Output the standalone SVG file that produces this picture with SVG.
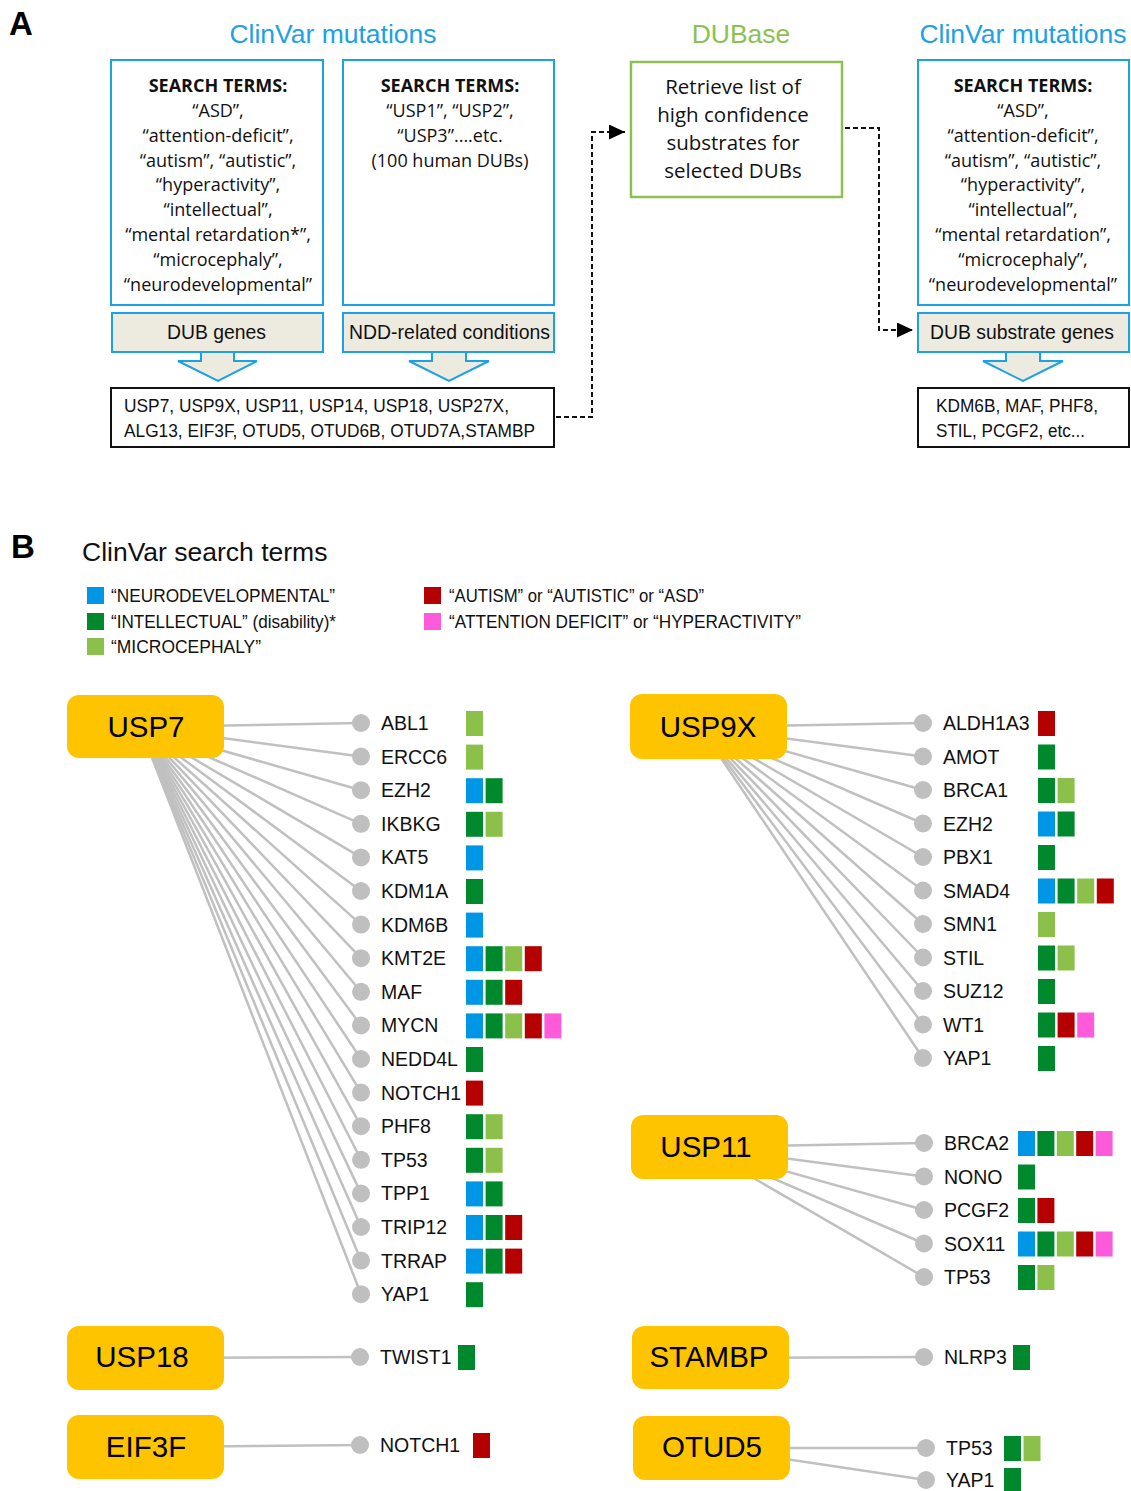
<svg xmlns="http://www.w3.org/2000/svg" width="1131" height="1491" viewBox="0 0 1131 1491">
<style>
.lbl{font-family:"Liberation Sans",Arial,sans-serif;font-weight:bold;font-size:33px;fill:#000}
.title{font-family:"Liberation Sans",Arial,sans-serif;font-size:26.5px;text-anchor:middle}
.blue{fill:#1BA1E6}
.grn{fill:#8CC152}
.bx{fill:#fff;stroke:#1BA1E6;stroke-width:2}
.gbx{fill:#fff;stroke:#8CC152;stroke-width:2.5}
.kbx{fill:#fff;stroke:#111;stroke-width:2}
.beige{fill:#EDEAE0;stroke:#1BA1E6;stroke-width:2}
.t17{font-family:"Open Sans","Noto Sans",sans-serif;font-size:18px;text-anchor:middle;fill:#111}
.t17b{font-family:"Open Sans","Noto Sans",sans-serif;font-size:18px;font-weight:bold;text-anchor:middle;fill:#111}
.t20{font-family:"Open Sans","Noto Sans",sans-serif;font-size:20.5px;text-anchor:middle;fill:#111}
.nar{font-family:"Liberation Sans",Arial,sans-serif;fill:#111}
.dash{fill:none;stroke:#111;stroke-width:2;stroke-dasharray:5 3}
.edge line{stroke:#C0C0C0;stroke-width:2.5}
.dub rect{fill:#FFC400}
.dub text{font-family:"Liberation Sans",Arial,sans-serif;font-size:29.5px;text-anchor:middle;fill:#000}
.gene circle{fill:#BFBFBF}
.gene text{font-family:"Liberation Sans",Arial,sans-serif;font-size:19.5px;fill:#111}
.sB{fill:#0096E6}.sG{fill:#00892C}.sL{fill:#8BC14A}.sR{fill:#B50000}.sP{fill:#FF5AD9}
</style>
<defs>
<marker id="ah" markerUnits="userSpaceOnUse" markerWidth="17" markerHeight="16" refX="16" refY="7.5" orient="auto">
<path d="M0,0 L16,7.5 L0,15 z" fill="#000"/>
</marker>
</defs>
<rect width="1131" height="1491" fill="#fff"/>

<!-- Panel A -->
<text class="lbl" x="9" y="35">A</text>
<text class="title blue" x="333" y="43">ClinVar mutations</text>
<text class="title grn" x="741" y="43">DUBase</text>
<text class="title blue" x="1023" y="43">ClinVar mutations</text>

<g id="connectors-a">
<polygon class="beige" points="201,352 234,352 234,361 257,361 218,381 178,361 201,361"/>
<polygon class="beige" points="432,352 466,352 466,361 489,361 449,381 409,361 432,361"/>
<polygon class="beige" points="1006,352 1040,352 1040,361 1063,361 1023,381 983,361 1006,361"/>
<path class="dash" d="M556,417 H592 V132 H625" marker-end="url(#ah)"/>
<path class="dash" d="M845,128 H879 V330 H913" marker-end="url(#ah)"/>
</g>

<g id="search-dub-genes">
<rect class="bx" x="111" y="60" width="212" height="245"/>
<text class="t17b" x="218" y="92">SEARCH TERMS:</text>
<text class="t17" x="218" y="117">“ASD”,</text>
<text class="t17" x="218" y="142">“attention-deficit”,</text>
<text class="t17" x="218" y="167">“autism”, “autistic”,</text>
<text class="t17" x="218" y="191">“hyperactivity”,</text>
<text class="t17" x="218" y="216">“intellectual”,</text>
<text class="t17" x="218" y="241">“mental retardation*”,</text>
<text class="t17" x="218" y="266">“microcephaly”,</text>
<text class="t17" x="218" y="291">“neurodevelopmental”</text>
</g>
<g id="search-dubs">
<rect class="bx" x="343" y="60" width="211" height="245"/>
<text class="t17b" x="450" y="92">SEARCH TERMS:</text>
<text class="t17" x="450" y="117">“USP1”, “USP2”,</text>
<text class="t17" x="450" y="142">“USP3”....etc.</text>
<text class="t17" x="450" y="167">(100 human DUBs)</text>
</g>
<g id="dub-genes">
<rect class="beige" x="112" y="313" width="211" height="39"/>
<text class="nar" x="167" y="339" font-size="21" textLength="99" lengthAdjust="spacingAndGlyphs">DUB genes</text>
</g>
<g id="ndd-conditions">
<rect class="beige" x="343" y="313" width="211" height="39"/>
<text class="nar" x="349" y="339" font-size="21" textLength="201" lengthAdjust="spacingAndGlyphs">NDD-related conditions</text>
</g>
<g id="dub-list">
<rect class="kbx" x="111" y="388" width="443" height="59"/>
<text class="nar" x="124" y="412" font-size="18" textLength="385" lengthAdjust="spacingAndGlyphs">USP7, USP9X, USP11, USP14, USP18, USP27X,</text>
<text class="nar" x="124" y="437" font-size="18" textLength="411" lengthAdjust="spacingAndGlyphs">ALG13, EIF3F, OTUD5, OTUD6B, OTUD7A,STAMBP</text>
</g>
<g id="dubase">
<rect class="gbx" x="631" y="62" width="211" height="135"/>
<text class="t20" x="733" y="94">Retrieve list of</text>
<text class="t20" x="733" y="122">high confidence</text>
<text class="t20" x="733" y="150">substrates for</text>
<text class="t20" x="733" y="178">selected DUBs</text>
</g>
<g id="search-substrates">
<rect class="bx" x="918" y="60" width="211" height="245"/>
<text class="t17b" x="1023" y="92">SEARCH TERMS:</text>
<text class="t17" x="1023" y="117">“ASD”,</text>
<text class="t17" x="1023" y="142">“attention-deficit”,</text>
<text class="t17" x="1023" y="167">“autism”, “autistic”,</text>
<text class="t17" x="1023" y="191">“hyperactivity”,</text>
<text class="t17" x="1023" y="216">“intellectual”,</text>
<text class="t17" x="1023" y="241">“mental retardation”,</text>
<text class="t17" x="1023" y="266">“microcephaly”,</text>
<text class="t17" x="1023" y="291">“neurodevelopmental”</text>
</g>
<g id="dub-substrate-genes">
<rect class="beige" x="918" y="313" width="211" height="39"/>
<text class="nar" x="930" y="339" font-size="21" textLength="184" lengthAdjust="spacingAndGlyphs">DUB substrate genes</text>
</g>
<g id="substrate-list">
<rect class="kbx" x="918" y="388" width="211" height="59"/>
<text class="nar" x="936" y="412" font-size="18" textLength="162" lengthAdjust="spacingAndGlyphs">KDM6B, MAF, PHF8,</text>
<text class="nar" x="936" y="437" font-size="18" textLength="149" lengthAdjust="spacingAndGlyphs">STIL, PCGF2, etc...</text>
</g>

<!-- Panel B -->
<text class="lbl" x="11" y="558">B</text>
<text class="nar" x="82" y="561" font-size="26.5" fill="#1a1a1a">ClinVar search terms</text>
<g id="legend">
<rect class="sB" x="87" y="587" width="17" height="17"/>
<rect class="sG" x="87" y="613" width="17" height="17"/>
<rect class="sL" x="87" y="638" width="17" height="17"/>
<rect class="sR" x="424" y="587" width="17" height="17"/>
<rect class="sP" x="424" y="613" width="17" height="17"/>
<text class="nar" x="111" y="602" font-size="18" textLength="224" lengthAdjust="spacingAndGlyphs">“NEURODEVELOPMENTAL”</text>
<text class="nar" x="111" y="628" font-size="18" textLength="225" lengthAdjust="spacingAndGlyphs">“INTELLECTUAL” (disability)*</text>
<text class="nar" x="111" y="653" font-size="18" textLength="150" lengthAdjust="spacingAndGlyphs">“MICROCEPHALY”</text>
<text class="nar" x="449" y="602" font-size="18" textLength="255" lengthAdjust="spacingAndGlyphs">“AUTISM” or “AUTISTIC” or “ASD”</text>
<text class="nar" x="449" y="628" font-size="18" textLength="352" lengthAdjust="spacingAndGlyphs">“ATTENTION DEFICIT” or “HYPERACTIVITY”</text>
</g>

<g id="connectors" class="edge">
<line x1="140" y1="727" x2="361" y2="723"/>
<line x1="140" y1="727" x2="361" y2="756.6"/>
<line x1="140" y1="727" x2="361" y2="790.2"/>
<line x1="140" y1="727" x2="361" y2="823.8"/>
<line x1="140" y1="727" x2="361" y2="857.4"/>
<line x1="140" y1="727" x2="361" y2="891"/>
<line x1="140" y1="727" x2="361" y2="924.6"/>
<line x1="140" y1="727" x2="361" y2="958.2"/>
<line x1="140" y1="727" x2="361" y2="991.8"/>
<line x1="140" y1="727" x2="361" y2="1025.4"/>
<line x1="140" y1="727" x2="361" y2="1059"/>
<line x1="140" y1="727" x2="361" y2="1092.6"/>
<line x1="140" y1="727" x2="361" y2="1126.2"/>
<line x1="140" y1="727" x2="361" y2="1159.8"/>
<line x1="140" y1="727" x2="361" y2="1193.4"/>
<line x1="140" y1="727" x2="361" y2="1227"/>
<line x1="140" y1="727" x2="361" y2="1260.6"/>
<line x1="140" y1="727" x2="361" y2="1294.2"/>
<line x1="700" y1="727" x2="923" y2="723"/>
<line x1="700" y1="727" x2="923" y2="756.5"/>
<line x1="700" y1="727" x2="923" y2="790"/>
<line x1="700" y1="727" x2="923" y2="823.5"/>
<line x1="700" y1="727" x2="923" y2="857"/>
<line x1="700" y1="727" x2="923" y2="890.5"/>
<line x1="700" y1="727" x2="923" y2="924"/>
<line x1="700" y1="727" x2="923" y2="957.5"/>
<line x1="700" y1="727" x2="923" y2="991"/>
<line x1="700" y1="727" x2="923" y2="1024.5"/>
<line x1="700" y1="727" x2="923" y2="1058"/>
<line x1="700" y1="1147" x2="924" y2="1143"/>
<line x1="700" y1="1147" x2="924" y2="1176.5"/>
<line x1="700" y1="1147" x2="924" y2="1210"/>
<line x1="700" y1="1147" x2="924" y2="1243.5"/>
<line x1="700" y1="1147" x2="924" y2="1277"/>
<line x1="146" y1="1358" x2="360" y2="1357"/>
<line x1="146" y1="1447" x2="360" y2="1445"/>
<line x1="710" y1="1358" x2="924" y2="1357"/>
<line x1="712" y1="1448" x2="926" y2="1448"/>
<line x1="712" y1="1448" x2="926" y2="1480"/>
</g>

<g id="USP7" class="dub"><rect x="67" y="695" width="157" height="63" rx="12"/><text x="146" y="737">USP7</text></g>
<g id="USP9X" class="dub"><rect x="630" y="694" width="157" height="65" rx="12"/><text x="708" y="737">USP9X</text></g>
<g id="USP11" class="dub"><rect x="631" y="1115" width="157" height="64" rx="12"/><text x="706" y="1157">USP11</text></g>
<g id="USP18" class="dub"><rect x="67" y="1326" width="157" height="64" rx="12"/><text x="142" y="1367">USP18</text></g>
<g id="EIF3F" class="dub"><rect x="67" y="1415" width="157" height="64" rx="12"/><text x="146" y="1457">EIF3F</text></g>
<g id="STAMBP" class="dub"><rect x="632" y="1326" width="157" height="63" rx="12"/><text x="709" y="1367">STAMBP</text></g>
<g id="OTUD5" class="dub"><rect x="633" y="1416" width="157" height="64" rx="12"/><text x="712" y="1457">OTUD5</text></g>

<!-- USP7 substrates -->
<g id="usp7-ABL1" class="gene"><circle cx="361" cy="723" r="9"/><text x="381" y="730">ABL1</text><rect class="sL" x="466" y="711" width="17" height="25"/></g>
<g id="usp7-ERCC6" class="gene"><circle cx="361" cy="756.6" r="9"/><text x="381" y="763.6">ERCC6</text><rect class="sL" x="466" y="744.6" width="17" height="25"/></g>
<g id="usp7-EZH2" class="gene"><circle cx="361" cy="790.2" r="9"/><text x="381" y="797.2">EZH2</text><rect class="sB" x="466" y="778.2" width="17" height="25"/><rect class="sG" x="485.6" y="778.2" width="17" height="25"/></g>
<g id="usp7-IKBKG" class="gene"><circle cx="361" cy="823.8" r="9"/><text x="381" y="830.8">IKBKG</text><rect class="sG" x="466" y="811.8" width="17" height="25"/><rect class="sL" x="485.6" y="811.8" width="17" height="25"/></g>
<g id="usp7-KAT5" class="gene"><circle cx="361" cy="857.4" r="9"/><text x="381" y="864.4">KAT5</text><rect class="sB" x="466" y="845.4" width="17" height="25"/></g>
<g id="usp7-KDM1A" class="gene"><circle cx="361" cy="891" r="9"/><text x="381" y="898">KDM1A</text><rect class="sG" x="466" y="879" width="17" height="25"/></g>
<g id="usp7-KDM6B" class="gene"><circle cx="361" cy="924.6" r="9"/><text x="381" y="931.6">KDM6B</text><rect class="sB" x="466" y="912.6" width="17" height="25"/></g>
<g id="usp7-KMT2E" class="gene"><circle cx="361" cy="958.2" r="9"/><text x="381" y="965.2">KMT2E</text><rect class="sB" x="466" y="946.2" width="17" height="25"/><rect class="sG" x="485.6" y="946.2" width="17" height="25"/><rect class="sL" x="505.2" y="946.2" width="17" height="25"/><rect class="sR" x="524.8" y="946.2" width="17" height="25"/></g>
<g id="usp7-MAF" class="gene"><circle cx="361" cy="991.8" r="9"/><text x="381" y="998.8">MAF</text><rect class="sB" x="466" y="979.8" width="17" height="25"/><rect class="sG" x="485.6" y="979.8" width="17" height="25"/><rect class="sR" x="505.2" y="979.8" width="17" height="25"/></g>
<g id="usp7-MYCN" class="gene"><circle cx="361" cy="1025.4" r="9"/><text x="381" y="1032.4">MYCN</text><rect class="sB" x="466" y="1013.4" width="17" height="25"/><rect class="sG" x="485.6" y="1013.4" width="17" height="25"/><rect class="sL" x="505.2" y="1013.4" width="17" height="25"/><rect class="sR" x="524.8" y="1013.4" width="17" height="25"/><rect class="sP" x="544.4" y="1013.4" width="17" height="25"/></g>
<g id="usp7-NEDD4L" class="gene"><circle cx="361" cy="1059" r="9"/><text x="381" y="1066">NEDD4L</text><rect class="sG" x="466" y="1047" width="17" height="25"/></g>
<g id="usp7-NOTCH1" class="gene"><circle cx="361" cy="1092.6" r="9"/><text x="381" y="1099.6">NOTCH1</text><rect class="sR" x="466" y="1080.6" width="17" height="25"/></g>
<g id="usp7-PHF8" class="gene"><circle cx="361" cy="1126.2" r="9"/><text x="381" y="1133.2">PHF8</text><rect class="sG" x="466" y="1114.2" width="17" height="25"/><rect class="sL" x="485.6" y="1114.2" width="17" height="25"/></g>
<g id="usp7-TP53" class="gene"><circle cx="361" cy="1159.8" r="9"/><text x="381" y="1166.8">TP53</text><rect class="sG" x="466" y="1147.8" width="17" height="25"/><rect class="sL" x="485.6" y="1147.8" width="17" height="25"/></g>
<g id="usp7-TPP1" class="gene"><circle cx="361" cy="1193.4" r="9"/><text x="381" y="1200.4">TPP1</text><rect class="sB" x="466" y="1181.4" width="17" height="25"/><rect class="sG" x="485.6" y="1181.4" width="17" height="25"/></g>
<g id="usp7-TRIP12" class="gene"><circle cx="361" cy="1227" r="9"/><text x="381" y="1234">TRIP12</text><rect class="sB" x="466" y="1215" width="17" height="25"/><rect class="sG" x="485.6" y="1215" width="17" height="25"/><rect class="sR" x="505.2" y="1215" width="17" height="25"/></g>
<g id="usp7-TRRAP" class="gene"><circle cx="361" cy="1260.6" r="9"/><text x="381" y="1267.6">TRRAP</text><rect class="sB" x="466" y="1248.6" width="17" height="25"/><rect class="sG" x="485.6" y="1248.6" width="17" height="25"/><rect class="sR" x="505.2" y="1248.6" width="17" height="25"/></g>
<g id="usp7-YAP1" class="gene"><circle cx="361" cy="1294.2" r="9"/><text x="381" y="1301.2">YAP1</text><rect class="sG" x="466" y="1282.2" width="17" height="25"/></g>

<!-- USP9X substrates -->
<g id="usp9x-ALDH1A3" class="gene"><circle cx="923" cy="723" r="9"/><text x="943" y="730">ALDH1A3</text><rect class="sR" x="1038" y="711" width="17" height="25"/></g>
<g id="usp9x-AMOT" class="gene"><circle cx="923" cy="756.5" r="9"/><text x="943" y="763.5">AMOT</text><rect class="sG" x="1038" y="744.5" width="17" height="25"/></g>
<g id="usp9x-BRCA1" class="gene"><circle cx="923" cy="790" r="9"/><text x="943" y="797">BRCA1</text><rect class="sG" x="1038" y="778" width="17" height="25"/><rect class="sL" x="1057.6" y="778" width="17" height="25"/></g>
<g id="usp9x-EZH2" class="gene"><circle cx="923" cy="823.5" r="9"/><text x="943" y="830.5">EZH2</text><rect class="sB" x="1038" y="811.5" width="17" height="25"/><rect class="sG" x="1057.6" y="811.5" width="17" height="25"/></g>
<g id="usp9x-PBX1" class="gene"><circle cx="923" cy="857" r="9"/><text x="943" y="864">PBX1</text><rect class="sG" x="1038" y="845" width="17" height="25"/></g>
<g id="usp9x-SMAD4" class="gene"><circle cx="923" cy="890.5" r="9"/><text x="943" y="897.5">SMAD4</text><rect class="sB" x="1038" y="878.5" width="17" height="25"/><rect class="sG" x="1057.6" y="878.5" width="17" height="25"/><rect class="sL" x="1077.2" y="878.5" width="17" height="25"/><rect class="sR" x="1096.8" y="878.5" width="17" height="25"/></g>
<g id="usp9x-SMN1" class="gene"><circle cx="923" cy="924" r="9"/><text x="943" y="931">SMN1</text><rect class="sL" x="1038" y="912" width="17" height="25"/></g>
<g id="usp9x-STIL" class="gene"><circle cx="923" cy="957.5" r="9"/><text x="943" y="964.5">STIL</text><rect class="sG" x="1038" y="945.5" width="17" height="25"/><rect class="sL" x="1057.6" y="945.5" width="17" height="25"/></g>
<g id="usp9x-SUZ12" class="gene"><circle cx="923" cy="991" r="9"/><text x="943" y="998">SUZ12</text><rect class="sG" x="1038" y="979" width="17" height="25"/></g>
<g id="usp9x-WT1" class="gene"><circle cx="923" cy="1024.5" r="9"/><text x="943" y="1031.5">WT1</text><rect class="sG" x="1038" y="1012.5" width="17" height="25"/><rect class="sR" x="1057.6" y="1012.5" width="17" height="25"/><rect class="sP" x="1077.2" y="1012.5" width="17" height="25"/></g>
<g id="usp9x-YAP1" class="gene"><circle cx="923" cy="1058" r="9"/><text x="943" y="1065">YAP1</text><rect class="sG" x="1038" y="1046" width="17" height="25"/></g>

<!-- USP11 substrates -->
<g id="usp11-BRCA2" class="gene"><circle cx="924" cy="1143" r="9"/><text x="944" y="1150">BRCA2</text><rect class="sB" x="1018" y="1131" width="17" height="25"/><rect class="sG" x="1037.4" y="1131" width="17" height="25"/><rect class="sL" x="1056.8" y="1131" width="17" height="25"/><rect class="sR" x="1076.2" y="1131" width="17" height="25"/><rect class="sP" x="1095.6" y="1131" width="17" height="25"/></g>
<g id="usp11-NONO" class="gene"><circle cx="924" cy="1176.5" r="9"/><text x="944" y="1183.5">NONO</text><rect class="sG" x="1018" y="1164.5" width="17" height="25"/></g>
<g id="usp11-PCGF2" class="gene"><circle cx="924" cy="1210" r="9"/><text x="944" y="1217">PCGF2</text><rect class="sG" x="1018" y="1198" width="17" height="25"/><rect class="sR" x="1037.4" y="1198" width="17" height="25"/></g>
<g id="usp11-SOX11" class="gene"><circle cx="924" cy="1243.5" r="9"/><text x="944" y="1250.5">SOX11</text><rect class="sB" x="1018" y="1231.5" width="17" height="25"/><rect class="sG" x="1037.4" y="1231.5" width="17" height="25"/><rect class="sL" x="1056.8" y="1231.5" width="17" height="25"/><rect class="sR" x="1076.2" y="1231.5" width="17" height="25"/><rect class="sP" x="1095.6" y="1231.5" width="17" height="25"/></g>
<g id="usp11-TP53" class="gene"><circle cx="924" cy="1277" r="9"/><text x="944" y="1284">TP53</text><rect class="sG" x="1018" y="1265" width="17" height="25"/><rect class="sL" x="1037.4" y="1265" width="17" height="25"/></g>

<!-- single substrates -->
<g id="usp18-TWIST1" class="gene"><circle cx="360" cy="1357" r="9"/><text x="380" y="1364">TWIST1</text><rect class="sG" x="458" y="1345" width="17" height="25"/></g>
<g id="eif3f-NOTCH1" class="gene"><circle cx="360" cy="1445" r="9"/><text x="380" y="1452">NOTCH1</text><rect class="sR" x="473" y="1433" width="17" height="25"/></g>
<g id="stambp-NLRP3" class="gene"><circle cx="924" cy="1357" r="9"/><text x="944" y="1364">NLRP3</text><rect class="sG" x="1013" y="1345" width="17" height="25"/></g>
<g id="otud5-TP53" class="gene"><circle cx="926" cy="1448" r="9"/><text x="946" y="1455">TP53</text><rect class="sG" x="1004" y="1436" width="17" height="25"/><rect class="sL" x="1023.5" y="1436" width="17" height="25"/></g>
<g id="otud5-YAP1" class="gene"><circle cx="926" cy="1480" r="9"/><text x="946" y="1487">YAP1</text><rect class="sG" x="1004" y="1468" width="17" height="25"/></g>
</svg>
